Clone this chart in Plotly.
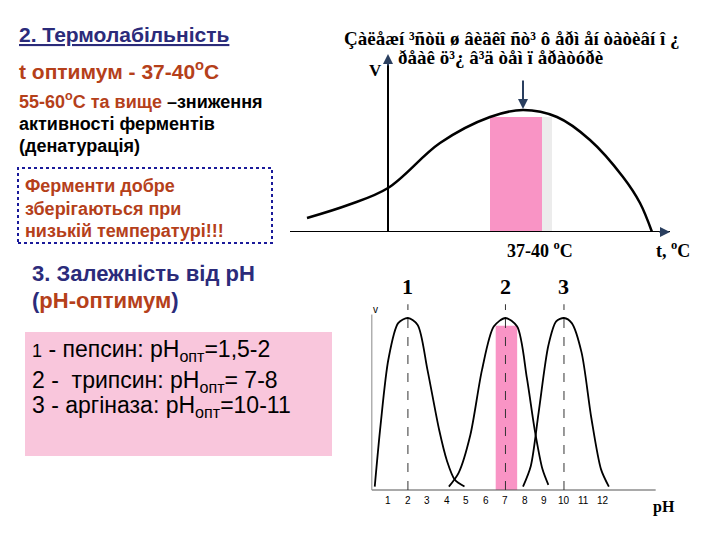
import plotly.graph_objects as go

# temperature curve (x relative to V axis, V activity)
t_x = [-81, -40, 0, 52, 102, 135, 169, 202, 235, 252, 264]
t_v = [14, 27, 44, 89, 115, 122, 115, 92, 55, 29, 0]
opt_t = [102, 154]
opt_gray = [154, 164]
opt_v = 115

# pH curves
ph1_x = [0.3, 0.6, 1.0, 1.5, 2.0, 2.5, 3.0, 3.6, 4.0, 4.4, 4.9]
ph1_y = [0.02, 0.38, 0.76, 0.97, 1.0, 0.96, 0.7, 0.35, 0.17, 0.06, 0.02]
ph2_x = [4.1, 4.6, 5.2, 5.8, 6.4, 7.0, 7.6, 8.1, 8.5, 8.9, 9.2]
ph2_y = [0.02, 0.1, 0.32, 0.7, 0.95, 1.0, 0.95, 0.65, 0.35, 0.12, 0.03]
ph3_x = [7.9, 8.3, 8.7, 9.2, 9.6, 10.0, 10.4, 10.9, 11.4, 11.9, 12.3]
ph3_y = [0.02, 0.14, 0.45, 0.84, 0.98, 1.0, 0.97, 0.8, 0.42, 0.12, 0.02]
ph_peaks = [2, 7, 10]
ph_labels = ["1", "2", "3"]
ph_ticks = list(range(1, 13))
ph_bar = [6.5, 7.6]
ph_bar_h = 0.955

W, H = 720, 540
fig = go.Figure()
black = dict(color="black", width=2)

fig.add_trace(go.Scatter(x=t_x, y=t_v, mode="lines", line=dict(color="black", width=2.5, shape="spline"),
                         xaxis="x", yaxis="y", showlegend=False))
for xs, ys in [(ph1_x, ph1_y), (ph2_x, ph2_y), (ph3_x, ph3_y)]:
    fig.add_trace(go.Scatter(x=xs, y=ys, mode="lines",
                             line=dict(color="black", width=1.8, shape="spline", smoothing=0.8),
                             xaxis="x2", yaxis="y2", showlegend=False))

shapes = [
    dict(type="rect", xref="x", yref="y", x0=opt_gray[0], x1=opt_gray[1], y0=0, y1=opt_v,
         fillcolor="#ececec", line_width=0, layer="below"),
    dict(type="rect", xref="x", yref="y", x0=opt_t[0], x1=opt_t[1], y0=0, y1=opt_v,
         fillcolor="#f994c5", line_width=0, layer="below"),
    dict(type="line", xref="x", yref="y", x0=-98, x1=282, y0=0, y1=0, line=black),
    dict(type="line", xref="x", yref="y", x0=0, x1=0, y0=0, y1=172, line=black),
    dict(type="rect", xref="x2", yref="y2", x0=ph_bar[0], x1=ph_bar[1], y0=0, y1=ph_bar_h,
         fillcolor="#f994c5", line_width=0, layer="below"),
    dict(type="line", xref="x2", yref="y2", x0=0.15, x1=14.7, y0=0, y1=0, line=dict(color="#555", width=1.2)),
    dict(type="line", xref="x2", yref="y2", x0=0.15, x1=0.15, y0=0, y1=1.02, line=dict(color="#888", width=1)),
    # left text boxes
    dict(type="rect", xref="paper", yref="paper", x0=18/W, x1=272/W, y0=1-243/H, y1=1-168/H,
         line=dict(color="#1a1a9a", width=2, dash="dot")),
    dict(type="rect", xref="paper", yref="paper", x0=25/W, x1=332/W, y0=1-456/H, y1=1-332/H,
         fillcolor="#f9c6dc", line_width=0, layer="below"),
]
for p in ph_peaks:
    shapes.append(dict(type="line", xref="x2", yref="y2", x0=p, x1=p, y0=0, y1=1.08,
                       line=dict(color="#333", width=1, dash="dash")))
fig.update_layout(shapes=shapes)

ann = []
def txt(x, y, s, size=15, color="black", bold=False, family="Arial", anchor="left"):
    ann.append(dict(x=x/W, y=1-y/H, xref="paper", yref="paper", text=("<b>%s</b>" % s) if bold else s,
                    showarrow=False, xanchor=anchor, yanchor="middle", borderpad=0,
                    font=dict(size=size, color=color, family=family)))

navy = "#2b2b7a"
brown = "#b5401a"
txt(18, 35, "<u>2. Термолабільність</u>", 21, navy, True)
txt(18, 70, "t оптимум - 37-40<sup>о</sup>С", 21, brown, True)
txt(18, 101, "<span style='color:#b5401a'>55-60<sup>о</sup>С та вище</span> –зниження", 18, "black", True)
txt(18, 124, "активності ферментів", 18, "black", True)
txt(18, 146, "(денатурація)", 18, "black", True)
txt(24, 186, "Ферменти добре", 18, brown, True)
txt(24, 209, "зберігаються при", 18, brown, True)
txt(24, 231, "низькій температурі!!!", 18, brown, True)
txt(31, 273, "3. Залежність від рН", 22, navy, True)
txt(31, 300, "(<span style='color:#b5401a'><b>рН-оптимум</b></span>)", 22, navy, True)
txt(31, 350, "<span style='font-size:18px'>1</span> - пепсин: рН<sub>опт</sub>=1,5-2", 23)
txt(31, 381, "2 -  трипсин: рН<sub>опт</sub>= 7-8", 23)
txt(31, 406, "3 - аргіназа: рН<sub>опт</sub>=10-11", 23)

serif = "Times New Roman, Liberation Serif, serif"
txt(343, 38, "Çàëåæí ³ñòü ø âèäêî ñò³ ô åðì åí òàòèâí î ¿", 19, "black", True, serif)
txt(397, 58, "ðåàê ö³¿ â³ä òåì ï åðàòóðè", 19, "black", True, serif)
txt(375, 70, "V", 17, "black", True, serif, "center")
txt(540, 249, "37-40 <sup>o</sup>C", 18, "black", True, serif, "center")
txt(673, 249, "t, <sup>o</sup>C", 18, "black", True, serif, "center")
ann.append(dict(x=135, y=opt_v + 8, xref="x", yref="y", ax=135, ay=opt_v + 38, axref="x", ayref="y",
                showarrow=True, arrowhead=2, arrowwidth=2, text=""))
ann.append(dict(x=282, y=0, xref="x", yref="y", ax=270, ay=0, axref="x", ayref="y",
                showarrow=True, arrowhead=2, arrowwidth=2, text=""))
ann.append(dict(x=0, y=178, xref="x", yref="y", ax=0, ay=165, axref="x", ayref="y",
                showarrow=True, arrowhead=2, arrowwidth=2, text=""))
for p, lab in zip(ph_peaks, ph_labels):
    ann.append(dict(x=p, y=1.1, xref="x2", yref="y2", text="<b>%s</b>" % lab, showarrow=False,
                    yanchor="bottom", font=dict(size=22, family=serif, color="black")))
for t in ph_ticks:
    ann.append(dict(x=t, y=-0.02, xref="x2", yref="y2", text=str(t), showarrow=False, yanchor="top",
                    font=dict(size=10, family="Arial", color="black")))
ann.append(dict(x=0.35, y=1.05, xref="x2", yref="y2", text="v", showarrow=False,
                font=dict(size=10, family="Arial", color="black")))
txt(664, 507, "<b>pH</b>", 16, "black", False, serif, "center")
fig.update_layout(annotations=ann)

fig.update_layout(
    width=W, height=H, margin=dict(l=0, r=0, t=0, b=0),
    paper_bgcolor="white", plot_bgcolor="rgba(0,0,0,0)",
    xaxis=dict(domain=[290/W, 690/W], range=[-98, 302], visible=False),
    yaxis=dict(domain=[1-232/H, 1-50/H], range=[0, 182], visible=False),
    xaxis2=dict(domain=[365/W, 690/W], range=[-0.2, 16.46], visible=False),
    yaxis2=dict(domain=[1-530/H, 1-275/H], range=[-40/172, 215/172], visible=False),
)
fig.write_html("out.html", post_script="document.body.style.margin='0';",
               config={"displayModeBar": False})
